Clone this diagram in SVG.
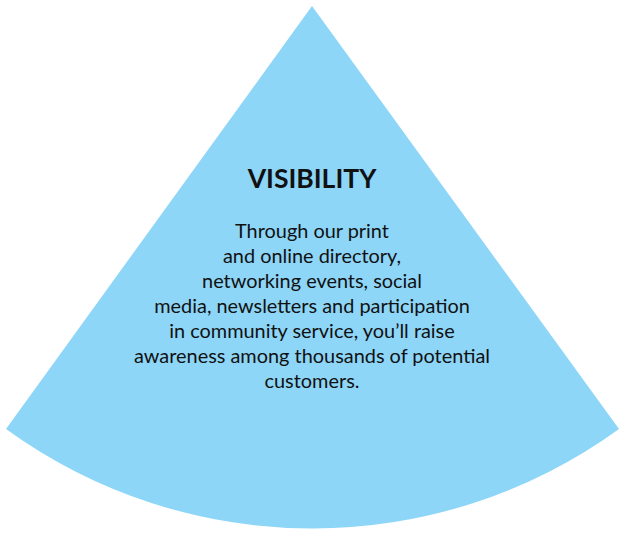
<svg xmlns="http://www.w3.org/2000/svg" width="625" height="534" viewBox="0 0 625 534">
<style>
.t{font-family:Lato,"Open Sans",sans-serif;fill:#111;text-anchor:middle}
.h{font-size:26.5px;font-weight:bold}
.b{font-size:19.9px}
</style>
<g id="sector">
<path d="M312,6 L6,429 A522,522 0 0 0 619,429 Z" fill="#8DD6F8"/>
</g>
<g id="label">
<text class="t h" x="312" y="188">VISIBILITY</text>
<text class="t b" x="312" y="238">Through our print</text>
<text class="t b" x="312" y="263">and online directory,</text>
<text class="t b" x="312" y="288">networking events, social</text>
<text class="t b" x="312" y="313">media, newsletters and participation</text>
<text class="t b" x="312" y="338">in community service, you’ll raise</text>
<text class="t b" x="312" y="363">awareness among thousands of potential</text>
<text class="t b" x="312" y="388">customers.</text>
</g>
</svg>
